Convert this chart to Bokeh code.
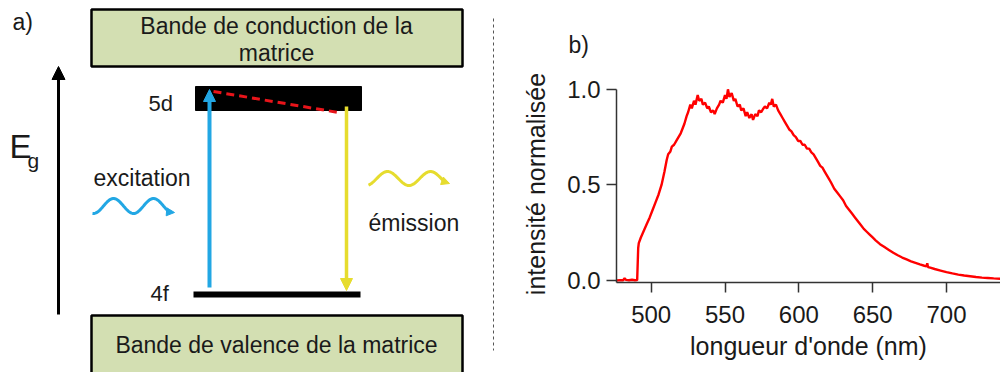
import numpy as np
from bokeh.plotting import figure
from bokeh.models import Range1d, FixedTicker, PrintfTickFormatter, Arrow, NormalHead, Title
from bokeh.layouts import row
from bokeh.embed import file_html
from bokeh.resources import INLINE
from bokeh.core.properties import value

# ---------------- data (panel b: normalised emission spectrum) ----------------
wavelength_nm = [
    476.5, 479, 481, 482, 483, 485, 487, 489, 490.5, 491.2,
    491.6, 493, 495, 497, 499, 501, 503, 505, 507, 509,
    510.5, 511.5, 513, 514, 515.5, 517, 518.5, 520, 521, 522.5,
    524, 525, 526.5, 527.5, 529, 530, 531.5, 532.5, 534, 535,
    536.5, 538, 539, 540.5, 542, 543, 544.5, 546, 547, 548.5,
    550, 551, 552, 553, 554.5, 556, 557, 558.5, 560, 561,
    562.5, 564, 565, 566.5, 568, 569, 570.5, 572, 573, 574.5,
    576, 577, 578.5, 580, 581, 582, 583, 584.5, 586, 587.5,
    589, 590.5, 592, 593.5, 595, 596.5, 598, 599.5, 601, 602.5,
    604, 605.5, 607, 608.5, 610, 611.5, 613, 614.5, 616, 617.5,
    619, 620.5, 622, 624, 626, 628, 630, 632, 634, 636,
    638, 640, 642, 644, 646, 648, 650, 652, 655, 658,
    661, 664, 667, 670, 673, 676, 679, 682, 685, 686.5,
    687, 687.5, 689, 692, 696, 700, 704, 708, 712, 716,
    720, 724, 728, 732, 737,
]
intensity = [
    0.000, 0.002, 0.001, 0.012, 0.003, 0.001, 0.004, 0.001, 0.002, 0.170,
    0.195, 0.225, 0.260, 0.295, 0.330, 0.370, 0.410, 0.450, 0.500, 0.570,
    0.630, 0.660, 0.675, 0.700, 0.710, 0.730, 0.750, 0.770, 0.790, 0.820,
    0.860, 0.880, 0.920, 0.900, 0.940, 0.920, 0.970, 0.940, 0.950, 0.920,
    0.930, 0.900, 0.910, 0.880, 0.890, 0.870, 0.900, 0.920, 0.940, 0.930,
    0.970, 0.950, 1.000, 0.960, 0.980, 0.940, 0.950, 0.910, 0.920, 0.890,
    0.900, 0.860, 0.880, 0.850, 0.870, 0.840, 0.870, 0.860, 0.890, 0.880,
    0.900, 0.910, 0.900, 0.930, 0.920, 0.950, 0.910, 0.920, 0.890, 0.870,
    0.850, 0.830, 0.810, 0.790, 0.780, 0.760, 0.750, 0.730, 0.730, 0.710,
    0.710, 0.690, 0.690, 0.670, 0.660, 0.640, 0.620, 0.600, 0.590, 0.570,
    0.550, 0.530, 0.510, 0.480, 0.460, 0.440, 0.420, 0.390, 0.370, 0.350,
    0.330, 0.310, 0.290, 0.270, 0.255, 0.240, 0.225, 0.210, 0.190, 0.175,
    0.160, 0.145, 0.132, 0.120, 0.110, 0.100, 0.092, 0.084, 0.077, 0.074,
    0.090, 0.070, 0.067, 0.060, 0.052, 0.044, 0.037, 0.031, 0.026, 0.022,
    0.018, 0.015, 0.013, 0.011, 0.009,
]
assert len(wavelength_nm) == len(intensity)

x_ticks = [500, 550, 600, 650, 700]
y_ticks = [0.0, 0.5, 1.0]

# ---------------- texts ----------------
panel_a_label = "a)"
panel_b_label = "b)"
conduction_text = ["Bande de conduction de la", "matrice"]
valence_text = "Bande de valence de la matrice"
level_labels = ["5d", "4f"]
excitation_text = "excitation"
emission_text = "émission"
x_label = "longueur d'onde (nm)"
y_label = "intensité normalisée"

FONT = "Liberation Sans"
TXT = "#1a1a1a"
GREEN = "#D3DFB2"
BLUE = "#22A7E4"
YELLOW = "#E6DC2E"
RED = "#E8141A"

# ---------------- panel a: energy diagram (screen-pixel coordinates) ----------------
pa = figure(width=500, height=372, x_range=Range1d(0, 500), y_range=Range1d(372, 0),
            output_backend="svg", toolbar_location=None, min_border=0,
            x_axis_location=None, y_axis_location=None, frame_align=False)
pa.grid.visible = False
pa.outline_line_color = None


def txt(p, x, y, s, size, align="center"):
    p.text(x=[x], y=[y], text=[s], text_align=align, text_baseline="middle",
           text_font=value(FONT), text_font_size=size, text_color=TXT)


txt(pa, 12, 21, panel_a_label, "23px", "left")

# bands
pa.quad(left=91, right=462, top=9, bottom=66, fill_color=GREEN, line_color="black", line_width=2.5)
pa.quad(left=91, right=462, top=315, bottom=385, fill_color=GREEN, line_color="black", line_width=2.5)
txt(pa, 276, 25, conduction_text[0], "23px")
txt(pa, 276, 52, conduction_text[1], "23px")
txt(pa, 276, 344, valence_text, "23px")

# Eg arrow
pa.add_layout(Arrow(x_start=58, y_start=314, x_end=58, y_end=66, line_width=3, line_color="black",
                    end=NormalHead(size=13, fill_color="black", line_color="black")))
txt(pa, 9, 146, "E", "33px", "left")
txt(pa, 27, 160, "g", "21px", "left")

# levels
pa.quad(left=195, right=361, top=86, bottom=110, fill_color="black", line_color="black", line_width=1)
pa.quad(left=193, right=360, top=291, bottom=297, fill_color="black", line_color=None)
txt(pa, 148, 103, level_labels[0], "22px", "left")
txt(pa, 150, 293, level_labels[1], "22px", "left")

# relaxation (red dashed)
pa.line(x=[213, 338], y=[91, 112], line_color=RED, line_width=3, line_dash="8 5")

# transitions
pa.add_layout(Arrow(x_start=209, y_start=287, x_end=209, y_end=89, line_width=4, line_color=BLUE,
                    end=NormalHead(size=12, fill_color=BLUE, line_color=BLUE)))
pa.add_layout(Arrow(x_start=346, y_start=106, x_end=346, y_end=290, line_width=3.5, line_color=YELLOW,
                    end=NormalHead(size=12, fill_color=YELLOW, line_color=YELLOW)))

# photon waves
xb = np.linspace(92, 169, 80)
yb = 205.5 - 7.5 * np.cos(2 * np.pi * (xb - 113) / 40)
pa.line(xb, yb, line_color=BLUE, line_width=3)
pa.add_layout(Arrow(x_start=float(xb[-1]), y_start=float(yb[-1]), x_end=174, y_end=212,
                    line_width=3, line_color=BLUE,
                    end=NormalHead(size=8, fill_color=BLUE, line_color=BLUE)))
xy = np.linspace(368, 444, 80)
yy = 178 - 7 * np.cos(2 * np.pi * (xy - 387) / 43)
pa.line(xy, yy, line_color=YELLOW, line_width=3)
pa.add_layout(Arrow(x_start=float(xy[-1]), y_start=float(yy[-1]), x_end=449, y_end=183,
                    line_width=3, line_color=YELLOW,
                    end=NormalHead(size=8, fill_color=YELLOW, line_color=YELLOW)))
txt(pa, 93, 177, excitation_text, "23px", "left")
txt(pa, 368, 222, emission_text, "23px", "left")

# separator
pa.line(x=[493, 493], y=[18, 350], line_color="#555555", line_width=1, line_dash="3 3")

# ---------------- panel b: spectrum ----------------
pb = figure(width=500, height=372, x_range=Range1d(476.5, 736.6), y_range=Range1d(-0.0105, 1.02),
            output_backend="svg", toolbar_location=None, frame_align=False,
            min_border_left=116, min_border_right=0, min_border_top=85, min_border_bottom=90)
pb.grid.visible = False
pb.outline_line_color = None
pb.line(wavelength_nm, intensity, line_color="#FF0000", line_width=2.4)

pb.xaxis.ticker = FixedTicker(ticks=x_ticks)
pb.yaxis.ticker = FixedTicker(ticks=y_ticks)
pb.yaxis.formatter = PrintfTickFormatter(format="%.1f")
pb.yaxis.bounds = (-0.0105, 1.0)
for ax in (pb.xaxis[0], pb.yaxis[0]):
    ax.axis_line_color = "#333333"
    ax.axis_line_width = 1.5
    ax.major_tick_line_color = "#333333"
    ax.major_tick_line_width = 1.5
    ax.major_tick_in = 0
    ax.major_tick_out = 10
    ax.minor_tick_line_color = None
    ax.major_label_text_font = FONT
    ax.major_label_text_font_size = "24px"
    ax.major_label_text_color = TXT
    ax.axis_label_text_font = FONT
    ax.axis_label_text_font_size = "25px"
    ax.axis_label_text_font_style = "normal"
    ax.axis_label_text_color = TXT
pb.xaxis.axis_label = x_label
pb.yaxis.axis_label = y_label
pb.xaxis.major_label_standoff = 13
pb.yaxis.major_label_standoff = 6
pb.xaxis.axis_label_standoff = 6
pb.yaxis.axis_label_standoff = 14

pb.add_layout(Title(text=panel_b_label, align="left", offset=-48, standoff=55, text_font=FONT,
                    text_font_size="23px", text_font_style="normal", text_color=TXT), "above")

layout = row(pa, pb)
open("out.html", "w").write(file_html(layout, INLINE))
